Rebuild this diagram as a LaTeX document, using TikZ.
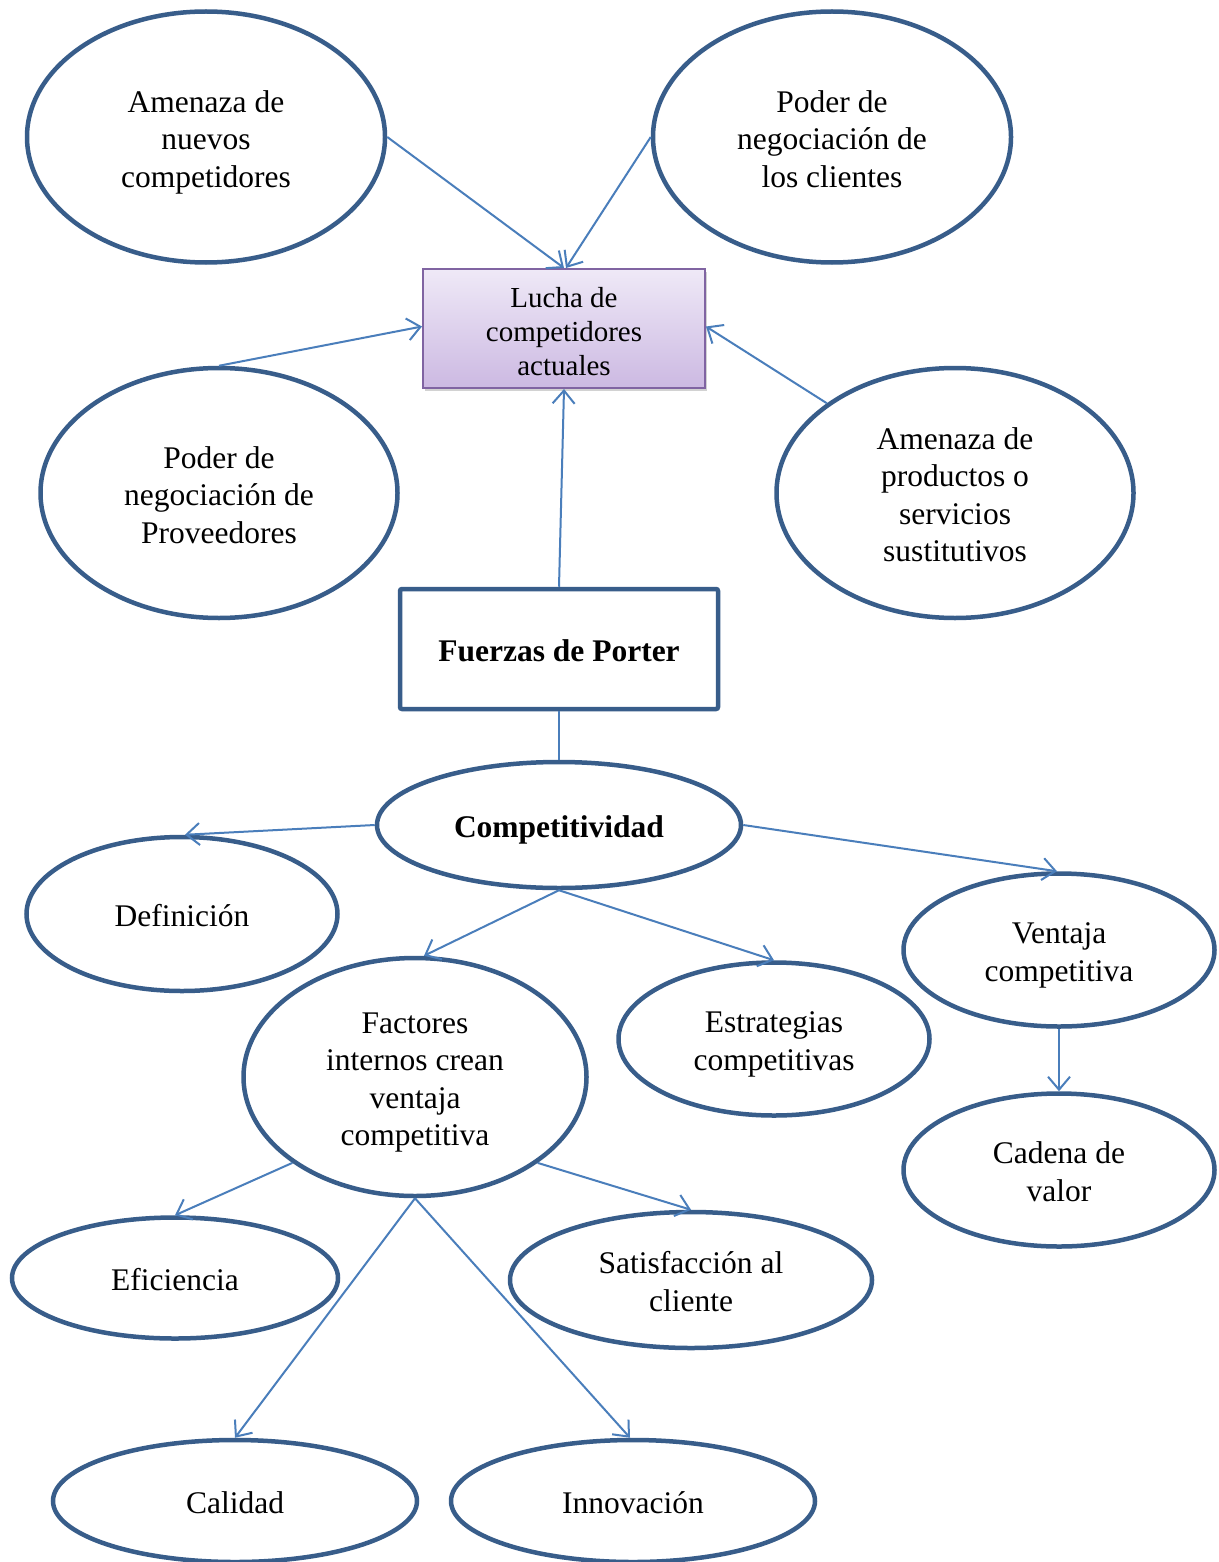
\documentclass[tikz,border=0pt]{standalone}
\usepackage{fontspec}
\setmainfont{Liberation Serif}
\usetikzlibrary{arrows.meta,shapes.geometric,shadows}

\definecolor{ringblue}{RGB}{56,93,138}
\definecolor{linkblue}{RGB}{74,126,187}
\definecolor{boxpurple}{RGB}{128,100,162}
\definecolor{lilactop}{RGB}{239,233,247}
\definecolor{lilacbot}{RGB}{204,185,226}

% centred multi-line text; the tall first-line strut sets the text a little low
\newcommand\lines[1]{\begin{tabular}{@{}c@{}}\rule{0pt}{36.5pt}#1\end{tabular}}

\tikzset{
  oval/.style={ellipse, draw=ringblue, line width=4.5pt, inner sep=0pt,
    font=\fontsize{31.5}{37.5}\selectfont},
  hub/.style={rectangle, draw=boxpurple, line width=2pt, inner sep=0pt,
    top color=lilactop, bottom color=lilacbot,
    minimum width=282pt, minimum height=119pt,
    font=\fontsize{29}{34}\selectfont,
    drop shadow={opacity=0.35, shadow xshift=2pt, shadow yshift=-3pt}},
  titlebox/.style={rectangle, draw=ringblue, line width=4.5pt, rounded corners=2pt,
    inner sep=0pt, minimum width=318pt, minimum height=120pt,
    font=\fontsize{31.5}{37.5}\selectfont\bfseries},
  link/.style={draw=linkblue, line width=2pt},
  arrowlink/.style={link, -{Straight Barb[length=13pt,width=22pt]}}
}

\begin{document}
\begin{tikzpicture}[x=1pt,y=-1pt]
\useasboundingbox (0,0) rectangle (1218,1562);
\clip (0,0) rectangle (1218,1562);
\fill[white] (0,0) rectangle (1218,1562);

% the five forces around the central rivalry box
\node[oval, minimum width=358pt, minimum height=251pt] (nuevos) at (206,137)
  {\lines{Amenaza de\\nuevos\\competidores}};
\node[oval, minimum width=358pt, minimum height=251pt] (clientes) at (832,137)
  {\lines{Poder de\\negociación de\\los clientes}};
\node[hub] (lucha) at (564,328.5) {\lines{Lucha de\\competidores\\actuales}};
\node[oval, minimum width=357pt, minimum height=250pt] (proveedores) at (219,493)
  {\lines{Poder de\\negociación de\\Proveedores}};
\node[oval, minimum width=357pt, minimum height=250pt] (sustitutos) at (955,493)
  {\lines{Amenaza de\\productos o\\servicios\\sustitutivos}};

\node[titlebox] (porter) at (559,649) {\lines{Fuerzas de Porter}};

% competitiveness branch
\node[oval, minimum width=364pt, minimum height=126pt, font=\fontsize{31.5}{37.5}\selectfont\bfseries]
  (comp) at (559,825) {\lines{Competitividad}};
\node[oval, minimum width=311pt, minimum height=154pt] (definicion) at (182,914)
  {\lines{Definición}};
\node[oval, minimum width=311pt, minimum height=153pt] (ventaja) at (1059,950)
  {\lines{Ventaja\\competitiva}};
\node[oval, minimum width=343pt, minimum height=238pt] (factores) at (415,1077)
  {\lines{Factores\\internos crean\\ventaja\\competitiva}};
\node[oval, minimum width=311pt, minimum height=153pt] (estrategias) at (774,1039)
  {\lines{Estrategias\\competitivas}};
\node[oval, minimum width=311pt, minimum height=153pt] (cadena) at (1059,1170)
  {\lines{Cadena de\\valor}};
\node[oval, minimum width=326pt, minimum height=121pt] (eficiencia) at (175,1278)
  {\lines{Eficiencia}};
\node[oval, minimum width=362pt, minimum height=136pt] (satisfaccion) at (691,1280)
  {\lines{Satisfacción al\\cliente}};
\node[oval, minimum width=364pt, minimum height=122pt] (calidad) at (235,1501)
  {\lines{Calidad}};
\node[oval, minimum width=364pt, minimum height=122pt] (innovacion) at (633,1501)
  {\lines{Innovación}};

% connectors
\draw[arrowlink] (nuevos.east) -- (lucha.north);
\draw[arrowlink] (clientes.west) -- ([xshift=2pt]lucha.north);
\draw[arrowlink] (proveedores.north) -- ([yshift=2pt]lucha.west);
\draw[arrowlink] (sustitutos.145) -- ([yshift=2pt]lucha.east);
\draw[arrowlink] (porter.north) -- (lucha.south);
\draw[link] (porter.south) -- (comp.north);

\draw[arrowlink] (comp.west) -- ([xshift=3pt]definicion.north);
\draw[arrowlink] (comp.east) -- ([xshift=-2pt]ventaja.north);
\draw[arrowlink] (comp.south) -- ([xshift=9pt]factores.north);
\draw[arrowlink] (comp.south) -- (estrategias.north);
\draw[arrowlink] (ventaja.south) -- (cadena.north);

\draw[arrowlink] (factores.215) -- (eficiencia.north);
\draw[arrowlink] (factores.-35) -- (satisfaccion.north);
\draw[arrowlink] (factores.south) -- (calidad.north);
\draw[arrowlink] (factores.south) -- ([xshift=-3pt]innovacion.north);
\end{tikzpicture}
\end{document}
